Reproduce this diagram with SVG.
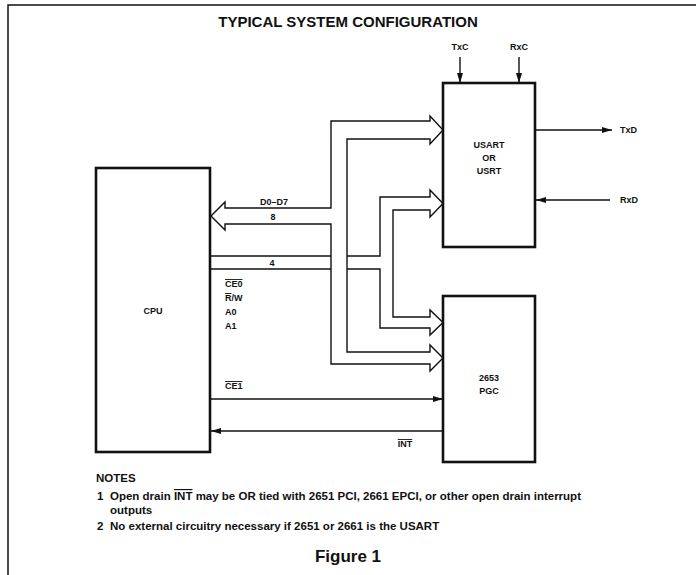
<svg xmlns="http://www.w3.org/2000/svg" width="696" height="575" viewBox="0 0 696 575">
<defs>
<style>
text{font-family:"Liberation Sans",Arial,sans-serif;fill:#111;font-weight:bold}
.box{fill:#fff;stroke:#111;stroke-width:2.6}
.bus{fill:none;stroke:#111;stroke-width:1.4;stroke-linejoin:miter}
.wire{fill:none;stroke:#111;stroke-width:1.4}
.lbl{font-size:9px}
.mid{text-anchor:middle}
.ov{text-decoration:overline}
.note{font-size:11.5px}
</style>
<marker id="ah" viewBox="0 0 10 6" refX="10" refY="3" markerWidth="10" markerHeight="6" markerUnits="userSpaceOnUse" orient="auto">
<path d="M0,0 L10,3 L0,6 Z" fill="#111"/>
</marker>
</defs>
<rect width="696" height="575" fill="#fff"/>
<path d="M8,575 V5 H696" fill="none" stroke="#111" stroke-width="1.5"/>
<text x="348" y="27" class="mid" style="font-size:15px">TYPICAL SYSTEM CONFIGURATION</text>

<g id="connectors">
<!-- D0-D7 bus -->
<path class="bus" d="M225,208 H331 V121 H430 V116 L443,130 L430,144 V139 H347 V352 H430 V345 L443,358 L430,371 V364 H331 V224 H225 V230 L211,216 L225,202 Z"/>
<!-- 4 bus -->
<path class="bus" d="M211,256 H331 M211,269 H331"/>
<path class="bus" d="M347,256 H380 V197 H430 V190 L443,203.5 L430,217 V210 H393 V317 H430 V310 L443,322.5 L430,335 V328 H380 V269 H347"/>
<!-- clocks -->
<line class="wire" x1="460" y1="57" x2="460" y2="83" marker-end="url(#ah)"/>
<line class="wire" x1="519" y1="57" x2="519" y2="83" marker-end="url(#ah)"/>
<!-- TxD / RxD -->
<line class="wire" x1="536" y1="130" x2="612" y2="130" marker-end="url(#ah)"/>
<line class="wire" x1="610" y1="200" x2="536" y2="200" marker-end="url(#ah)"/>
<!-- CE1 / INT -->
<line class="wire" x1="211" y1="399" x2="443" y2="399" marker-end="url(#ah)"/>
<line class="wire" x1="443" y1="431" x2="211" y2="431" marker-end="url(#ah)"/>
</g>

<g id="labels">
<text x="274" y="205" class="lbl mid">D0–D7</text>
<text x="273" y="219.5" class="lbl mid">8</text>
<text x="272" y="266" class="lbl mid">4</text>
<text x="225" y="287" class="lbl"><tspan class="ov">CE0</tspan></text>
<text x="225" y="301" class="lbl"><tspan class="ov">R</tspan>/W</text>
<text x="225" y="315" class="lbl">A0</text>
<text x="225" y="329" class="lbl">A1</text>
<text x="225" y="389" class="lbl"><tspan class="ov">CE1</tspan></text>
<text x="405" y="447" class="lbl mid"><tspan class="ov">INT</tspan></text>
<text x="460" y="50" class="lbl mid">TxC</text>
<text x="519" y="50" class="lbl mid">RxC</text>
<text x="620" y="133" class="lbl">TxD</text>
<text x="620" y="203" class="lbl">RxD</text>
</g>

<g id="cpu">
<rect class="box" x="96" y="168" width="114" height="284"/>
<text x="153" y="314" class="lbl mid">CPU</text>
</g>

<g id="usart">
<rect class="box" x="443" y="83" width="92" height="164"/>
<text x="489" y="148" class="lbl mid">USART</text>
<text x="489" y="161" class="lbl mid">OR</text>
<text x="489" y="174" class="lbl mid">USRT</text>
</g>

<g id="pgc">
<rect class="box" x="443" y="296" width="92" height="166"/>
<text x="489" y="381" class="lbl mid">2653</text>
<text x="489" y="394" class="lbl mid">PGC</text>
</g>

<g id="notes">
<text x="96" y="482" class="note">NOTES</text>
<text x="97" y="500" class="note">1</text>
<text x="110" y="500" class="note">Open drain <tspan class="ov">INT</tspan> may be OR tied with 2651 PCI, 2661 EPCI, or other open drain interrupt</text>
<text x="110" y="514" class="note">outputs</text>
<text x="97" y="530" class="note">2</text>
<text x="110" y="530" class="note">No external circuitry necessary if 2651 or 2661 is the USART</text>
<text x="348" y="562" class="mid" style="font-size:17px">Figure 1</text>
</g>
</svg>
